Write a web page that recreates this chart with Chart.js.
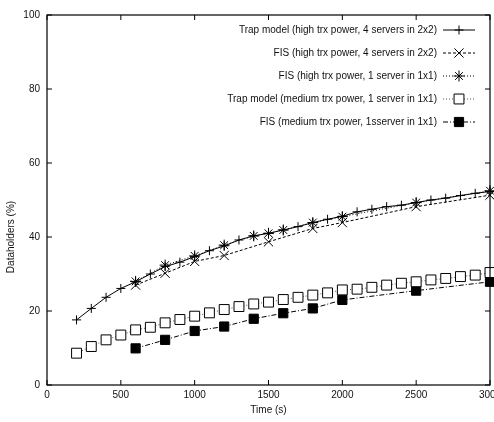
<!DOCTYPE html>
<html>
<head>
<meta charset="utf-8">
<script src="https://cdn.jsdelivr.net/npm/chart.js@4/dist/chart.umd.min.js"></script>
<style>
  html, body { margin: 0; padding: 0; background: #fff; overflow: hidden; }
  #wrap { position: relative; width: 510px; height: 422px; }
</style>
</head>
<body>
<div id="wrap"><canvas id="chart"></canvas></div>
<script>
// tempos (s) das series
const trapTimes = [200, 300, 400, 500, 600, 700, 800, 900, 1000, 1100, 1200, 1300, 1400, 1500, 1600,
  1700, 1800, 1900, 2000, 2100, 2200, 2300, 2400, 2500, 2600, 2700, 2800, 2900, 3000];
const fis4Times = [600, 800, 1000, 1200, 1500, 1800, 2000, 2500, 3000];
const fis1Times = [600, 800, 1000, 1200, 1400, 1500, 1600, 1800, 2000, 2500, 3000];
const fisMedTimes = [600, 800, 1000, 1200, 1400, 1600, 1800, 2000, 2500, 3000];

// valores (%)
const trapHigh = [17.6, 20.7, 23.7, 26.1, 27.9, 30.0, 32.0, 33.2, 34.7, 36.3, 37.6, 39.2, 40.3, 41.0, 41.9,
  42.8, 43.9, 44.8, 45.6, 46.8, 47.5, 48.2, 48.6, 49.3, 50.0, 50.5, 51.2, 51.8, 52.3];
const fis4High = [27.0, 30.2, 33.4, 35.0, 38.7, 42.3, 43.9, 48.2, 51.3];
const fis1High = [28.0, 32.4, 34.9, 37.8, 40.3, 41.0, 41.9, 43.9, 45.5, 49.3, 52.5];
const trapMedium = [8.6, 10.4, 12.2, 13.5, 14.9, 15.6, 16.8, 17.7, 18.6, 19.5, 20.4, 21.2, 21.9, 22.4, 23.1,
  23.7, 24.3, 24.9, 25.7, 25.9, 26.4, 27.0, 27.5, 27.9, 28.4, 28.8, 29.3, 29.7, 30.4];
const fisMedium = [9.9, 12.2, 14.6, 15.8, 17.9, 19.4, 20.7, 23.0, 25.5, 27.9];

const seriesLabels = [
  'Trap model (high trx power, 4 servers in 2x2)',
  'FIS (high trx power, 4 servers in 2x2)',
  'FIS (high trx power, 1 server in 1x1)',
  'Trap model (medium trx power, 1 server in 1x1)',
  'FIS (medium trx power, 1sserver in 1x1)'
];
const xTitle = 'Time (s)';
const yTitle = 'Dataholders (%)';

const FAMILY = '"Liberation Sans", Arial, sans-serif';
const FONT = '10px ' + FAMILY;

function pts(xs, ys) {
  return xs.map((x, i) => ({ x, y: ys[i] }));
}

function ds(label, data, dash, style, radius, fill, color) {
  return {
    label, data,
    borderColor: color, borderWidth: 1, borderDash: dash,
    pointStyle: style, pointRadius: radius, pointHoverRadius: radius,
    pointBorderColor: '#000', pointBackgroundColor: fill, pointBorderWidth: 1,
    tension: 0, fill: false, clip: false
  };
}

const datasets = [
  ds(seriesLabels[0], pts(trapTimes, trapHigh), [], 'cross', 4.5, '#000', '#000'),
  ds(seriesLabels[1], pts(fis4Times, fis4High), [3, 2], 'crossRot', 6.5, '#000', '#000'),
  ds(seriesLabels[2], pts(fis1Times, fis1High), [1, 2], 'star', 5.5, '#000', '#000'),
  ds(seriesLabels[3], pts(trapTimes, trapMedium), [1, 2], 'rect', 7, '#fff', '#555'),
  ds(seriesLabels[4], pts(fisMedTimes, fisMedium), [5, 2, 1, 2], 'rect', 6.5, '#000', '#000')
];

// moldura, ticks internos, titulos e legenda no estilo gnuplot
const gnuplotStyle = {
  id: 'gnuplotStyle',
  afterDraw(chart) {
    const { ctx, chartArea: a, scales } = chart;
    ctx.save();
    ctx.strokeStyle = '#000';
    ctx.lineWidth = 1.2;
    ctx.setLineDash([]);
    ctx.strokeRect(a.left, a.top, a.right - a.left, a.bottom - a.top);
    ctx.lineWidth = 1;
    const tl = 5;
    scales.x.ticks.forEach(t => {
      const px = scales.x.getPixelForValue(t.value);
      ctx.beginPath();
      ctx.moveTo(px, a.bottom); ctx.lineTo(px, a.bottom - tl);
      ctx.moveTo(px, a.top); ctx.lineTo(px, a.top + tl);
      ctx.stroke();
    });
    scales.y.ticks.forEach(t => {
      const py = scales.y.getPixelForValue(t.value);
      ctx.beginPath();
      ctx.moveTo(a.left, py); ctx.lineTo(a.left + tl, py);
      ctx.moveTo(a.right, py); ctx.lineTo(a.right - tl, py);
      ctx.stroke();
    });

    ctx.fillStyle = '#111';
    ctx.font = FONT;
    ctx.textAlign = 'center';
    ctx.textBaseline = 'middle';
    ctx.fillText(xTitle, (a.left + a.right) / 2, 410);
    ctx.save();
    ctx.translate(11, 237);
    ctx.rotate(-Math.PI / 2);
    ctx.fillText(yTitle, 0, 0);
    ctx.restore();

    // legenda
    const rows = [30, 53, 76, 99, 122];
    chart.data.datasets.forEach((d, i) => {
      const y = rows[i];
      ctx.fillStyle = '#111';
      ctx.textAlign = 'right';
      ctx.fillText(d.label, 437, y);
      ctx.strokeStyle = d.borderColor;
      ctx.lineWidth = 1;
      ctx.setLineDash(d.borderDash);
      ctx.beginPath();
      ctx.moveTo(443, y); ctx.lineTo(475, y);
      ctx.stroke();
      ctx.setLineDash([]);
      ctx.strokeStyle = '#000';
      ctx.fillStyle = d.pointBackgroundColor;
      Chart.helpers.drawPoint(ctx, {
        pointStyle: d.pointStyle, rotation: 0, radius: d.pointRadius, borderWidth: 1
      }, 459, y);
    });
    ctx.restore();
  }
};

new Chart(document.getElementById('chart'), {
  type: 'line',
  data: { datasets },
  options: {
    responsive: true,
    maintainAspectRatio: false,
    animation: false,
    layout: { padding: { top: 15, right: 20, left: 0, bottom: 0 } },
    plugins: { legend: { display: false }, tooltip: { enabled: false } },
    scales: {
      x: {
        type: 'linear', min: 0, max: 3000,
        ticks: { stepSize: 500, color: '#111', font: { family: FAMILY, size: 10 }, padding: 4, maxRotation: 0,
          callback: v => String(v) },
        grid: { display: false, drawTicks: false },
        border: { display: false },
        afterFit(s) { s.height = 37; }
      },
      y: {
        min: 0, max: 100,
        ticks: { stepSize: 20, color: '#111', font: { family: FAMILY, size: 10 }, padding: 7,
          callback: v => String(v) },
        grid: { display: false, drawTicks: false },
        border: { display: false },
        afterFit(s) { s.width = 47; }
      }
    }
  },
  plugins: [gnuplotStyle]
});
</script>
</body>
</html>
